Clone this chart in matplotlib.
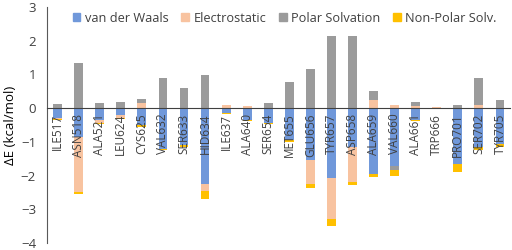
import numpy as np
import matplotlib.pyplot as plt
from matplotlib.patches import Patch

residues = ["ILE517", "ASN518", "ALA521", "LEU624", "CYS625", "VAL632", "SER633",
            "HID634", "ILE637", "ALA640", "SER654", "MET655", "GLU656", "TYR657",
            "ASP658", "ALA659", "VAL660", "ALA661", "TRP666", "PRO701", "SER702", "TYR705"]

vdw = [-0.28, -0.85, -0.36, -0.20, -0.50, -1.20, -1.10, -2.25, -0.15, -0.35, -0.45,
       -0.95, -1.55, -2.08, -1.15, -1.95, -1.72, -0.35, 0.00, -1.65, -1.15, -1.05]
elec = [-0.04, -1.65, -0.08, -0.10, 0.14, 0.00, 0.00, -0.22, 0.08, 0.05, 0.00,
        0.00, -0.70, -1.22, -1.03, 0.25, 0.10, 0.07, 0.02, 0.00, 0.08, 0.00]
polar = [0.13, 1.35, 0.15, 0.18, 0.13, 0.88, 0.59, 0.97, 0.00, 0.00, 0.15,
         0.78, 1.15, 2.14, 2.14, 0.27, -0.10, 0.12, 0.00, 0.10, 0.80, 0.25]
nonpolar = [-0.02, -0.05, -0.02, -0.02, -0.05, -0.05, -0.04, -0.22, -0.01, -0.03, -0.03,
            -0.05, -0.12, -0.20, -0.10, -0.08, -0.18, -0.02, -0.01, -0.25, -0.10, -0.10]

series = [("van der Waals", vdw, "#7098DA"),
          ("Electrostatic", elec, "#F8C3A0"),
          ("Polar Solvation", polar, "#9B9B9B"),
          ("Non-Polar Solv.", nonpolar, "#FFC000")]

plt.rcParams['font.family'] = ['Open Sans', 'DejaVu Sans']

fig = plt.figure(figsize=(5.12, 2.5), dpi=100)
ax = fig.add_axes([0.092, 0.028, 0.905, 0.944])

# stacked bars: positives and negatives stack separately (Excel style)
x = np.arange(len(residues))
pos_base = np.zeros(len(residues))
neg_base = np.zeros(len(residues))
for name, vals, col in series:
    v = np.array(vals)
    bottom = np.where(v >= 0, pos_base, neg_base)
    ax.bar(x, v, bottom=bottom, width=0.42, color=col, zorder=1)
    pos_base += np.clip(v, 0, None)
    neg_base += np.clip(v, None, 0)

ax.set_xlim(-0.5, len(residues) - 0.5)
ax.set_ylim(-4, 3)
ax.set_yticks(range(-4, 4))
ax.tick_params(axis='y', length=0, labelsize=9.5, pad=8, colors='#404040')
ax.set_ylabel("ΔE (kcal/mol)", fontsize=9.5, labelpad=3)

ax.spines['bottom'].set_position(('data', 0))
ax.spines['top'].set_visible(False)
ax.spines['right'].set_visible(False)
ax.spines['left'].set_color('#595959')
ax.spines['bottom'].set_color('#404040')
ax.set_xticks(x)
ax.set_xticklabels(residues, rotation=90, fontsize=8.5, color='#404040')
ax.tick_params(axis='x', length=0, pad=4)

handles = [Patch(color=col, label=name) for name, vals, col in series]
ax.legend(handles=handles, loc='center', bbox_to_anchor=(0.513, 0.953), ncol=4,
          frameon=False, fontsize=9.2, handlelength=0.6, handleheight=0.6,
          handletextpad=0.35, columnspacing=1.0, labelcolor='#404040',
          borderpad=0, borderaxespad=0)

fig.savefig("out.png", dpi=100)
